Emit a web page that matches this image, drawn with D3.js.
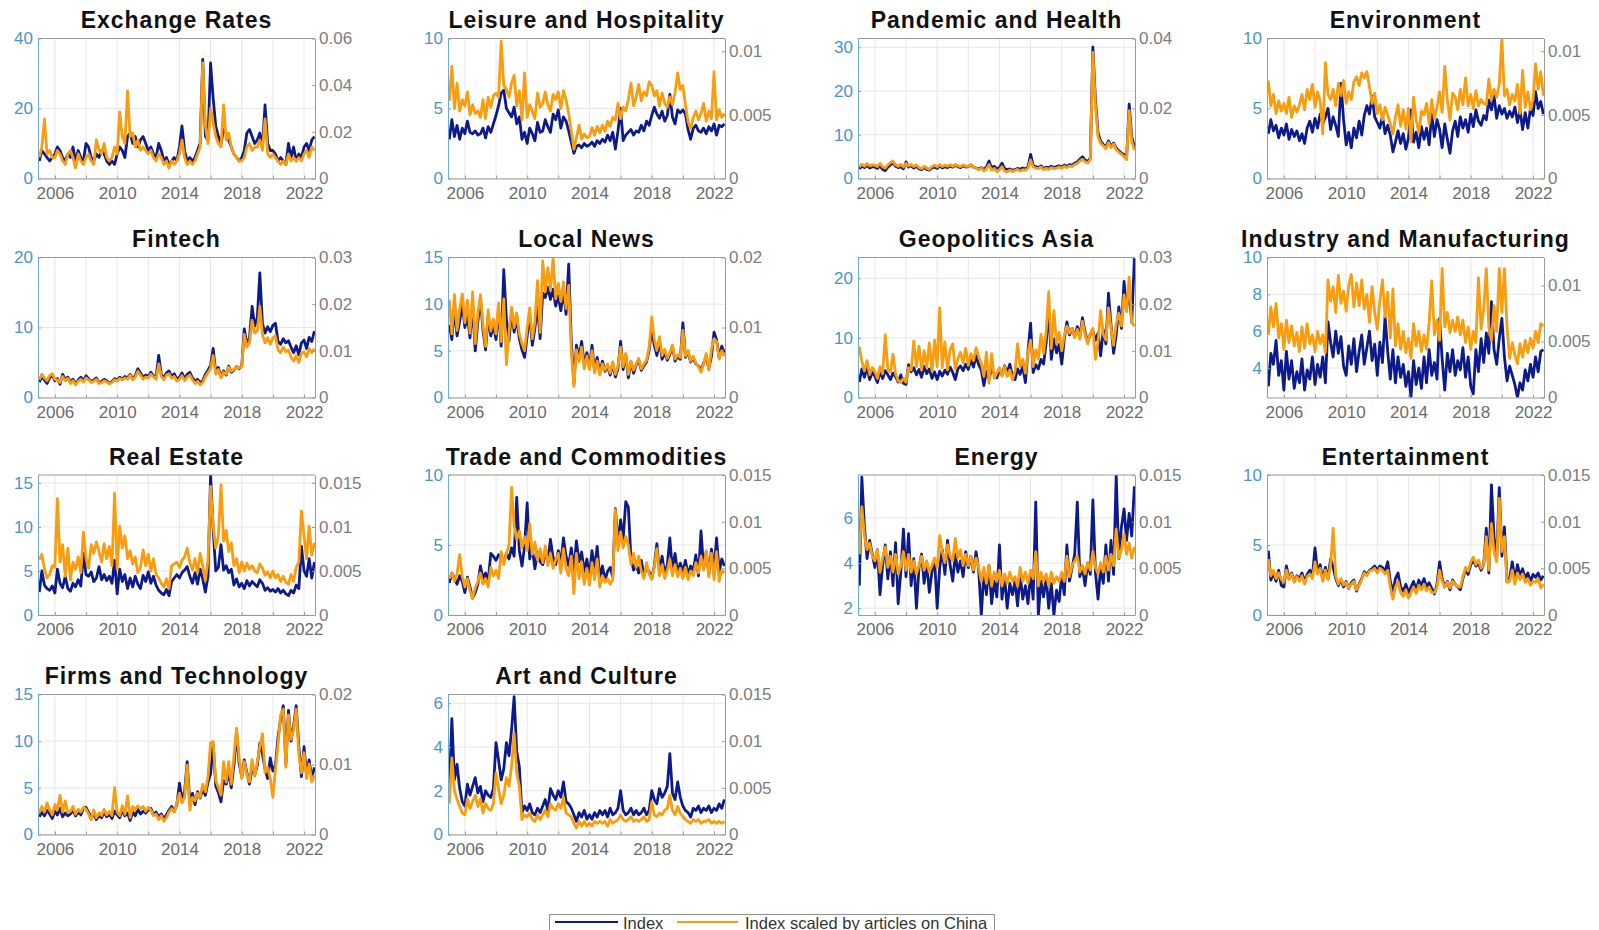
<!DOCTYPE html>
<html lang="en">
<head>
  <meta charset="UTF-8">
  <title>Topic indices</title>
  <script src="https://cdnjs.cloudflare.com/ajax/libs/d3/7.8.5/d3.min.js"></script>
  <style>
    body { margin: 0; background: #fff; }
    svg { display: block; font-family: 'Liberation Sans', Arial, sans-serif; }
  </style>
</head>
<body>
  <div id="wrapper"></div>
  <script>
    // one value every second month, Jan 2005 .. Sep 2022
    const dates = d3.timeMonth.every(2).range(new Date(2005, 0, 1), new Date(2022, 9, 1))

    const titles = ['Exchange Rates', 'Leisure and Hospitality', 'Pandemic and Health', 'Environment',
      'Fintech', 'Local News', 'Geopolitics Asia', 'Industry and Manufacturing',
      'Real Estate', 'Trade and Commodities', 'Energy', 'Entertainment',
      'Firms and Technology', 'Art and Culture']

    // left axis limits / ticks (Index)
    const leftLim = [[0, 40], [0, 10], [0, 32], [0, 10], [0, 20], [0, 15], [0, 23.5], [2.4, 10],
      [0, 15.9], [0, 10], [1.7, 7.9], [0, 10], [0, 15], [0, 6.4]]
    const leftTicks = [[0, 20, 40], [0, 5, 10], [0, 10, 20, 30], [0, 5, 10], [0, 10, 20], [0, 5, 10, 15],
      [0, 10, 20], [4, 6, 8, 10], [0, 5, 10, 15], [0, 5, 10], [2, 4, 6], [0, 5, 10], [0, 5, 10, 15], [0, 2, 4, 6]]
    // right axis limits / ticks (scaled index), in thousandths
    const rightLim = [[0, 60], [0, 11], [0, 40], [0, 11], [0, 30], [0, 20], [0, 30], [0, 12.5],
      [0, 15.9], [0, 15], [0, 15], [0, 15], [0, 20], [0, 15]]
    const rightTicks = [[0, 20, 40, 60], [0, 5, 10], [0, 20, 40], [0, 5, 10], [0, 10, 20, 30], [0, 10, 20],
      [0, 10, 20, 30], [0, 5, 10], [0, 5, 10, 15], [0, 5, 10, 15], [0, 5, 10, 15], [0, 5, 10, 15], [0, 10, 20], [0, 5, 10, 15]]

    // ---- Index series (left axis) ----
    const exchangeIdx = [5,8,7,6,5,6, 7,9,8,6,5,7, 6,9,5,8,6,5, 10,9,6,5,7,6, 8,7,5,4,5,4, 7,9,8,6,12,13,
      10,12,9,11,12,10, 8,9,7,6,10,8, 5,6,4,5,6,5, 9,15,8,5,6,5, 6,8,10,34,12,11, 33,23,15,12,10,14,
      13,11,9,7,6,5, 6,8,13,14,12,10, 11,13,9,21,10,8, 8,7,5,6,5,4, 10,6,9,5,7,6, 9,10,8,11,12]
    const leisureIdx = [2.8,4.2,3,3.8,2.8,3.6, 3.2,4.1,3.3,3.2,3.4,3.1, 3.2,3.6,2.9,3.7,3.3,3.9, 4.5,5.2,6.1,6.3,5,4.7, 4.4,5.1,3.9,4.4,2.8,3.3, 2.5,3.6,3.2,2.7,4,3.3,
      3.4,4.2,3.7,3.3,4.6,4.2, 4.9,3.6,4.4,4.1,3.4,2.6, 1.8,2.3,2.4,2.2,2.5,2.3, 2.4,2.6,2.3,2.7,2.5,2.8, 2.6,3.1,2.7,3.3,2.1,3.4, 5,2.7,3.1,3.3,3.5,3.1,
      3.4,3.3,3.8,3.4,4.1,3.8, 4.5,5.1,4.6,4.3,4.8,4.1, 4.5,6,4.4,3.9,4.9,4.7, 4.9,4.6,3.5,2.8,3.6,3.8, 3.4,3.3,3.6,3.2,3.7,3.4, 3.9,3.1,3.8,3.7,3.9]
    const pandemicIdx = [2.2,2.8,2.5,3,2.4,2.7, 2.6,2.3,2.9,2.1,1.8,2.6, 3.1,3.6,2.8,2.5,2.7,2.2, 3.8,2.6,2.9,2.4,2.8,2.2, 2,2.5,2.1,1.9,2.4,2.6, 2.3,2.9,2.4,2.7,2.5,2.8,
      2.6,3,2.7,2.5,2.9,2.6, 2.7,3.1,2.6,2.4,2.2,2.5, 2.1,2.6,4,2.4,2.8,2.2, 2.5,3.5,2.3,2,2.2,1.9, 2,2.3,2.1,2.4,2.2,2.6, 5.5,3,2.7,2.5,2.9,2.3,
      2.6,2.4,2.8,2.5,2.7,2.9, 2.6,3.1,2.7,3.2,3,3.5, 3.8,4.4,5,4.2,3.9,4.6, 30,18,10.5,8.5,7.8,7.2, 8.6,7.4,8.1,7,6.3,5.8, 5.5,4.5,17,9.5,7.2]
    const environmentIdx = [3.2,4.2,3.4,3.8,2.9,3.6, 3.1,3.9,2.8,3.5,3,3.4, 2.7,3.2,2.5,3.6,4.1,3.3, 4.3,3.6,4.6,3.9,4.4,5, 3.5,4.4,3.8,3,6.8,4.2, 2.4,3.3,2.2,3.6,2.9,4.1,
      3.1,4.5,5.2,4.6,5.9,4.4, 4,3.6,4.5,3.2,3.8,3.1, 1.9,2.6,3.4,2.5,3.2,2.1, 2.9,4.9,2.6,3.3,2.2,3.7, 2.8,3.6,2.4,4.6,3,4.2, 3.5,2.2,3.9,2.8,1.8,3.4,
      4.1,3,4.4,3.6,4.2,3.3, 4.6,3.7,4.9,4.1,3.8,4.5, 4.2,5.6,4.9,5.9,4.3,5.2, 4.6,5,4.3,4.8,4.4,5.1, 4,4.9,3.5,4.7,3.6,5, 4.5,6.2,5,5.5,4.6]
    const fintechIdx = [2.2,3,2.5,2,2.8,3.2, 2.4,2.7,1.9,3.3,2.6,2.9, 2.2,2.6,2,2.5,2.9,2.4, 3.1,2.7,2.3,2.5,2.8,2.1, 2.3,2.6,2.4,2,2.3,2.7, 2.5,2.9,2.6,3,2.8,3.3,
      2.7,3.1,4.1,3.5,2.9,3.2, 3,3.6,3.1,2.9,6,3.3, 2.8,3.5,3.8,3,3.4,2.6, 2.9,3.5,2.7,3.3,3.6,2.8, 2.3,2.6,2.1,2.4,3.3,3.9, 4.6,7,3.6,4.3,2.9,3.8,
      3.2,4.5,3.6,3.9,4.4,4.1, 4.5,9.8,7.6,8.5,13,10.2, 11.4,17.8,10.6,9.2,10.1,9.4, 10.3,10.6,8,7.6,8.4,7.8, 8.1,7.2,6.4,7.4,6.1,7.8, 8.2,7,8.6,8,9.5]
    const localNewsIdx = [7.8,6.2,9.5,6.6,8.2,10, 7.5,8.8,6.4,9.9,5,8.1, 10.6,7.2,5.1,8.7,6.6,7.8, 6.2,9.4,5.5,13.7,8.4,6.1, 9.1,7,8.5,6.3,5.1,4.3, 6.6,8.9,5.6,7.4,9.8,6.3,
      11.2,10.7,11.8,10.5,11.6,9.8, 10.9,9.3,11.5,8.9,14.3,6, 1.5,5.6,4.2,6,3.5,4.8, 3.2,5.6,2.8,4.3,2.6,3.9, 2.8,3.4,2.4,3.6,2.2,3.1, 6,3,4.6,2.1,3.8,2.6,
      3.5,4,2.9,3.4,3.8,5.1, 7.4,5.6,4.5,6,4.1,4.8, 4,4.6,5.5,3.9,4.4,4.1, 8,4.3,4.9,3.8,4.2,3.6, 3.4,2.9,3.7,4.3,3.1,4.4, 7,6.2,4.3,5.5,4.8]
    const geopoliticsIdx = [2.6,4.8,3.4,5,3,4.2, 3.6,2.5,4.4,3.2,4.5,3.8, 3,4.1,3.5,2.6,3.8,2.4, 2.2,5.5,4.3,5,3.8,4.7, 3.4,5.2,4,4.8,3.2,4.3, 3,4.4,3.6,4.6,3.9,5.1,
      4.2,3,4.8,5.3,4.5,5.6, 4.7,6.3,5.1,7,5.5,4.6, 2,4.4,3.1,4.8,4,3.3, 4.6,3.8,5.3,4.2,5.6,3.6, 3,4.8,3.9,5.2,2.5,7.8, 12.5,4.2,5.5,4.8,6.4,5.6,
      9.2,15,6.4,9.8,7.5,8.9, 5.6,9.8,12.7,10.5,11.6,10.2, 11.9,10.3,13.4,11,9.3,10.6, 11.2,9.6,10.8,7,11.4,9, 17.5,12.2,7.4,10.5,15.2,11.6, 19.5,14.8,18.2,12.6,23.5]
    const industryIdx = [3,4.8,4.2,5.5,3.6,4.4, 2.8,4.9,3.4,4.4,2.9,3.8, 3.2,4.5,2.8,3.9,3.4,4.6, 3.1,4.2,3.5,4.6,3.2,6.5, 5.4,4.6,6,4.8,5.7,4.1, 3.6,5.2,4.2,5.6,3.8,4.9,
      5.8,4.2,5.1,6,4.4,5.3, 3.6,5.4,4.3,6.8,4.9,3.4, 5,3.2,4.6,3.5,4.2,3, 3.8,2.4,4.4,3.1,4,2.9, 4.6,3.2,5,3.6,4.3,3.4, 6.7,4.5,2.8,4.8,3.8,5,
      3.6,4.4,3.9,5.1,3.5,4.6, 3,2.6,5,3.8,5.6,4.3, 5.9,4.8,7.6,5,4.2,5.6, 6.7,4.6,3.3,4.1,3.6,3.1, 2.4,3.2,2.8,3.9,3.3,4.2, 3.5,4.6,3.8,4.9,5]
    const realEstateIdx = [2.6,5,3.4,3,2.8,3.3, 2.5,5.2,3.6,3.1,4.4,3, 2.7,3.6,3.2,4,3.3,7, 4.6,4.4,4.9,3.8,4.2,5.5, 4,4.6,3.9,4.4,3.6,6.2, 2.4,5.2,3.8,4.6,3,4.2,
      3.2,4.4,3.5,3,4.5,3.8, 4.9,3.6,4.4,3.4,2.8,2.5, 2.3,2.9,2.2,3.8,4.2,4.6, 4.2,4.8,5.1,5.5,4.4,3.6, 4.8,3.5,5.2,4.1,2.6,4.4, 15.9,9.8,5,5.4,8,5.1,
      5.6,4.8,5.2,3.4,4.1,3.2, 3.6,3,3.9,3.3,3.8,3.5, 3.2,4,3.6,2.8,3.1,2.7, 2.9,2.6,3,2.5,2.8,2.4, 2.2,2.8,2.5,3.4,3,7.8, 5,4.4,6.4,4.2,6]
    const tradeIdx = [2.3,3,2.6,2.2,2.8,2.4, 1.6,2.7,2,1.2,1.6,2.2, 3.5,2.6,3,2.4,4.4,4.2, 3.9,4.3,4.1,3.8,4.4,4, 4.8,4.2,8.4,4.6,3.5,4.9, 8,4,4.8,3.3,4.5,3.8,
      3.6,4.4,3.9,5.4,4.1,3.6, 4.6,3.7,5.5,4.2,3.5,4.8, 3.2,5.3,3.8,4.5,3.1,4, 2.8,4.6,3.3,4.9,2.6,3.5, 2.5,3.1,3.4,2.7,7.6,5.1, 6.8,5.4,8.1,7.7,4,3.2,
      3.6,3,3.9,2.8,3.4,3.1, 2.6,3.5,5.1,3,4.2,2.9, 3.6,5.5,3.2,4.4,3,3.7, 3.1,3.9,2.9,3.5,3.2,4.3, 2.8,6,3.4,4.5,2.9,4.7, 3.2,5.5,3.1,4,3.5]
    const energyIdx = [3,7.8,5.6,4.2,5,4.4, 3.8,4.6,2.6,3.9,4.8,3.3, 4.5,3,4.9,2.2,3.6,5.5, 3.4,5.3,3,4.2,2,3.8, 4.4,3.1,4,2.7,3.6,4.2, 2,3.8,4.6,3.5,5,3.9,
      3.2,4.4,3.6,4.1,3.4,4.5, 3.8,4.3,3.6,4.5,3.7,1.7, 3.6,2.6,3.9,2.2,3.2,2.5, 4.8,2.4,3.4,2,3.1,2.6, 3.2,2.1,3.5,2.4,3,2.2, 3.6,2.4,6.7,1.7,3.2,2.5,
      3.4,2,3.1,1.7,2.8,2.3, 3.5,2.6,4.8,3.2,3.8,4.4, 6.7,3.4,3.8,3,4,3.5, 6.8,3.6,2.4,3.8,3.1,4.8, 3.2,5,3.5,7.9,4.2,5.6, 6.4,5,6.2,5.2,7.4]
    const entertainmentIdx = [4.6,2.5,3,2.4,3.2,2.1, 2,3.5,2.6,3,2.4,2.8, 2.6,3,2.4,2.9,3.2,2.8, 4.8,3,3.6,2.5,3.4,2.6, 4,3.4,2.6,2.1,2.5,2, 2.4,1.9,2.3,2.5,1.7,2.2,
      2.6,3.1,2.9,3.2,3.3,3.5, 3.2,3.5,3.4,3.1,3.8,2.4, 1.6,2.6,3,2,1.7,2.2, 1.6,2,2.4,1.8,2.5,2.1, 2.6,2,2.3,1.9,1.5,2.2, 3.8,2.6,2,2.4,1.8,2.5,
      2.2,2,1.8,2.6,3.3,2.9, 3.6,3.9,3.5,3.7,3.2,3.6, 6.2,3,9.3,5.6,4,9.1, 4.2,6.3,2.4,2.6,3.8,2.5, 3.6,2.8,3.3,2.6,3,2.4, 2.9,2.7,3,2.5,2.8]
    const firmsIdx = [1.9,2.4,2,2.6,2.2,1.7, 2.5,2.1,2.8,1.9,2.3,2, 2.2,2.6,2,2.4,2.1,2.8, 2.9,2.4,1.8,2.2,1.6,2, 1.8,2.4,1.9,2.2,1.7,2.5, 2.1,1.8,2.6,2,2.3,1.5,
      2.4,2,2.7,2.2,2.5,2.3, 2.6,2.8,2.1,2.4,1.9,2.2, 1.7,2.1,2.6,3,2.5,3.2, 5.5,3.8,4.6,7.8,3.4,4.4, 3.2,4.6,3.9,4.8,4.2,5.6, 6.5,9.7,5.2,4.5,3.5,5.8,
      5.4,6.6,5,7.4,11,7.6, 6.2,8,6.6,5.4,7.2,6.4, 7.4,9.8,8.6,7,6,8.2, 6.8,7.4,10.4,12.4,13.8,7.5, 13.3,10,11.6,13.8,9.4,6.2, 9.4,6.4,8,6,7.2]
    const artIdx = [2,5.3,2.5,3.2,2.1,1.5, 1.3,2.3,1.8,2.2,2.6,1.9, 2.2,1.5,2,1.8,1.7,2.1, 4.2,3.4,2.5,3,4.2,3.6, 4.8,6.3,3.8,3.1,1,1.3, 1.1,1.4,1,0.9,1.2,1,
      1.3,1.6,1.1,2.1,1.8,1.6, 2,1.7,2.4,1.5,1.4,1.2, 0.9,0.6,1,0.8,1.1,0.7, 0.9,0.7,1,0.8,1.1,0.9, 1.1,0.8,1.2,0.9,1,1.2, 2,1.1,0.9,1,1.2,0.9,
      1.1,0.9,1,1.2,0.9,1.1, 2,1.6,1.4,2.1,1.7,1.9, 2.2,3.7,1.9,1.6,2.4,1.7, 1.3,1.1,1,0.8,1.2,1.1, 1.3,1,1.2,1.1,1.3,1, 1.2,1.1,1.4,1.2,1.6]

    // ---- Index scaled by articles on China (right axis, thousandths) ----
    const exchangeScaled = [9,13.5,25.5,10.5,12,9, 9,12,10.5,7.5,6,10.5, 12,9,4.5,10.5,7.5,6, 9,10.5,7.5,6,16.5,12, 10.5,15,9,7.5,9,13.5, 10.5,28.5,18,15,37.5,18,
      19.5,13.5,16.5,12,13.5,12, 10.5,12,9,7.5,10.5,9, 6,7.5,4.5,7.5,6,7.5, 10.5,16.5,9,6,7.5,6, 7.5,10.5,13.5,49.5,22.5,15, 30,24,18,15,13.5,31.5,
      16.5,19.5,13.5,10.5,9,7.5, 7.5,9,13.5,15,12,13.5, 13.5,16.5,12,25.5,10.5,9, 10.5,9,7.5,6,7.5,6, 10.5,7.5,9,7.5,9,7.5, 10.5,12,9,13.5,12]
    const leisureScaled = [6.1,8.8,5.5,7.5,5.3,6.2, 5.7,6.8,5,5.8,5.1,5.3, 4.8,6.2,4.7,6.4,5.6,6.5, 6.7,6.4,10.8,7.3,7,6.4, 7.5,8.1,5.7,6.9,4.6,8.3, 4.8,5.8,5.3,4.7,6.7,5.6,
      5.9,6.8,5.8,5.3,6.6,6.2, 6.8,5.5,6.9,6.2,5.1,3.7, 2.3,3.2,4.2,3.1,3.5,3.2, 3.3,4,3.4,4.1,3.6,4.2, 3.7,4.5,4.1,4.8,4.6,5.9, 4.7,5.6,5.3,6.2,7.5,5.7,
      6.4,7.4,6.1,6.8,6.5,7.6, 7.3,6.5,6.9,5.7,6.7,5.9, 5.6,6.4,5.8,6.7,8.3,7, 7.3,5.8,4.5,3.9,4.8,5.3, 4.6,5.1,5.9,4.5,5.3,4.7, 8.4,4.6,5.4,4.8,5.1]
    const pandemicScaled = [3.3,4.1,3.5,4.3,3.6,3.9, 3.8,3.4,4.3,3.3,3,3.9, 4.5,5,3.9,3.5,4,3.3, 4.3,3.6,4,3.4,3.9,3.1, 2.8,3.5,3,2.6,3.4,3.8, 3.3,4,3.4,3.8,3.5,3.9,
      3.5,4,3.6,3.4,3.9,3.5, 3.5,4,3.3,2.9,2.5,3, 2.1,2.8,4,2.4,2.9,2, 2.5,3.4,2.1,1.9,2.4,2, 2.3,2.6,2.1,2.5,2.4,2.9, 5.3,3.3,3,2.8,3.3,2.5,
      2.9,2.6,3.1,2.8,3,3.3, 2.9,3.5,3.1,3.6,3.4,4, 4.3,5,5.5,4.8,4.4,5.3, 36,21,11.9,10,9.4,8.5, 10.3,8.8,9.8,8.3,7.5,6.9, 6.3,5.4,19.4,10.6,8.1]
    const environmentScaled = [7.7,5.7,6.6,5.1,6.1,5.3, 5.9,5.1,6.4,4.8,5.7,5.2, 5.8,6.6,5.4,7,6.2,7.4, 5.6,6.8,6.1,3.5,9.1,6.6, 6.2,7,5.7,7.5,6.5,7.7, 5.9,6.8,6.2,7.6,8,7.3,
      8.3,7.9,8.4,7.2,5.9,6.7, 5.1,5.8,4.6,5.6,5,4.3, 3.5,4.8,5.8,4.1,5.4,3.9, 5.5,2.9,6.4,4.6,3.6,5.3, 5,5.9,4.3,6.2,4.7,5.6, 6.8,5.2,8.8,6.2,4.6,6.7,
      6.4,5.4,7,5.8,7.9,5.7, 6.6,5.5,6.9,5.7,6.2,5.9, 5.8,7.8,6.2,7,6.4,7.4, 11,6.5,7,5.8,6.6,6.1, 7.4,5.1,8.5,5.6,6.8,5.4, 6.2,9,7,8.4,6.5]
    const fintechScaled = [3.8,5,4.2,3.6,4.7,5.1, 3.9,3.8,3.2,4.5,3.6,4.1, 3,3.6,2.7,3.5,3.9,3.3, 4.2,3.8,3.2,3.5,3.9,3, 3.2,3.6,3.3,2.9,3.2,3.8, 3.5,4.1,3.8,4.2,3.9,4.8,
      3.8,4.4,5.6,4.8,3.9,4.4, 4.2,5,4.4,3.9,7.2,4.5, 3.8,4.8,5.1,4.1,4.5,3.5, 3.9,4.7,3.6,4.4,4.8,3.8, 3,3.5,2.7,3.2,4.4,5.3, 6.2,9,5,6,4.2,5.4,
      5,6.5,5.6,6,6.5,6.3, 6.6,13.5,10.8,11.7,16.5,13.8, 14.3,19.5,13.5,11.7,12.8,11.4, 12.8,13.2,10.2,9.6,10.8,9.8, 10.2,8.7,7.8,9,7.5,9.5, 9.8,8.7,10.5,9.6,10.5]
    const localNewsScaled = [14,9.1,14.7,9.6,12.7,14.8, 10.7,13.9,9.2,15.1,7.7,12, 14.7,10.4,7.3,12.5,9.5,11.2, 9.1,13.5,8,14.1,4.7,9.3, 12.9,10,12.1,9.1,7.7,6.7, 9.9,12.8,8.4,10.9,16.7,9.3,
      19.5,15.1,18.5,15.3,20,14.1, 16.3,13.7,16.5,12.7,16,6.7, 1.6,6.8,5.1,7.2,4.1,5.9, 4,6.7,3.5,5.2,3.2,4.8, 3.9,4.8,3.5,5.1,3.3,4.5, 7.2,4.4,6.3,3.3,5.2,3.9,
      4.8,5.6,4.1,4.8,5.3,7.2, 11.5,8.4,6.7,8.7,6,6.9, 5.6,6.4,7.5,5.5,6.1,5.7, 9.6,5.9,6.7,5.2,5.9,4.9, 4.4,3.6,4.8,6.3,3.9,6.9, 8.4,8,5.5,6.7,5.9]
    const geopoliticsScaled = [10.9,7.7,5.7,7.9,4.9,6.4, 5.6,4.1,6.6,5.1,13.4,6.1, 5.4,9.3,5.1,3.6,3.2,4.1, 3.3,6.4,5.9,12.1,6.6,11, 5.9,10,6.4,11.7,5.6,12.3, 6.6,19.2,6.4,11.9,5.9,10.2,
      11.5,6.1,8.2,9.7,7.4,10.5, 6.9,9.4,7.9,10.7,8.7,7.4, 4.5,9.7,3.1,9.4,4.1,5.2, 6.4,4.6,6.6,4.5,5.9,3.8, 5.6,11.5,6.6,8.2,5.2,9.7, 12.3,6.6,10.2,8.2,13.5,9.4,
      14.3,22.7,10.5,18.6,11.5,14, 10,13.3,15.3,13.8,14.8,12.8, 14.6,12.5,16.3,13.5,11.5,13.8, 14.8,8.2,12,18.6,13.5,12.3, 19.2,14.8,11.2,15.8,18.1,15.3, 22,18.4,25.8,16.1,15.3]
    const industryScaled = [5.6,8.1,6.3,8.4,5.3,6.6, 4.3,6.9,4.9,6.4,4.6,5.8, 4.1,6.3,4.4,6.6,4.8,5.6, 4.1,5.9,4.8,5.6,4,10.5, 8.6,9.9,7.6,10.9,8.4,9.5, 7.7,10,11,8.1,10.2,8.2,
      10.5,7.9,9.2,6.7,9.9,7.6, 6.1,8.6,10.5,7.2,9.4,5.3, 9.7,4.6,6.6,4.3,5.9,4, 5.3,3.5,6.6,4.6,5.9,4.1, 5.6,4.3,6.7,10.4,5.6,6.9, 5.1,11.5,6.3,7.6,5.8,6.9,
      5.9,7.2,5.6,6.9,4.9,6.3, 4.3,5.9,4.9,10.7,6.1,7.9, 11.5,6.3,5.1,8.2,5.9,11.5, 7.6,11.5,6.3,3.5,4.9,3.8, 3,4.8,3.6,5.1,4,5.3, 4.4,5.9,4.9,6.6,6.4]
    const realEstateScaled = [6.3,6.9,5.2,4.2,4.6,5.6, 5.4,13.2,6,8,4.4,7.6, 4,6,5.2,6.6,4.8,9.4, 6.5,5.3,8,7,8.3,7.2, 6,8.1,6.4,7.8,5.6,13.8, 5.2,10.1,7.6,9,6.4,7.3,
      5.8,6.6,4.8,5.4,7.4,5.6, 6.9,5,6.4,4.6,4.2,3.6, 3.2,4.1,3,5.6,5.8,6, 5.4,6.2,6.6,7.6,6,5.1, 6.4,4.8,7,5.6,3.9,6.2, 14.6,10.2,7.6,9,14.8,8.4,
      9.6,7.2,8.2,5.6,6.4,4.8, 6,5,5.9,5.2,5.6,5, 4.8,5.8,5.3,4.5,4.9,4.2, 5,4.2,4.6,3.8,4.4,3.7, 3.5,4.6,3.8,5.4,6,11.8, 9,6.4,10.1,6.8,8.2]
    const tradeScaled = [3.9,4.5,3.6,4.4,6.5,4.1, 3,3.9,2.6,1.8,2.9,3.6, 4.5,3.3,3.9,3,5.1,4.2, 4.8,3.9,6.8,5.4,6.6,7.5, 13.7,9.5,8.1,9,7.2,8.4, 6.9,9.8,6.5,7.8,5.9,7.1,
      5.6,7.4,5.3,6.6,5,5.9, 6.6,4.5,7.1,5,4.2,6.3, 2.3,6.6,3.9,5.7,3.3,5, 3.2,5.6,3.8,6,3,4.2, 3.5,3.9,3.3,3.8,11.3,6.9, 8.9,7.2,8.4,7.5,5.4,6.6,
      5.1,6.3,4.7,3.9,5.6,4.4, 3.8,5.1,7.1,4.2,5.4,3.9, 4.8,6,4.2,5.4,4.1,5, 3.9,5.1,3.8,4.7,4.2,5.6, 4.5,6.3,4.8,6.9,4.1,6.6, 3.8,6.8,3.6,4.8,4.5]
    const energyScaled = [6.5,11.6,8.5,7,7.7,6.3, 5.8,7,4.6,6.1,7.3,5.1, 6.3,4.6,6.5,4.4,5.3,6.8, 4.8,6.5,4.6,5.8,4.4,5.3, 6.3,4.8,5.8,4.6,5.3,6.1, 5.1,8.5,6.8,5.6,7.5,6.3,
      5.8,8.2,6.1,7,5.3,6.5, 5.3,6.3,4.8,6.1,5.1,3.6, 5.1,3.4,5.3,3.1,4.6,3.6, 4.8,3.1,4.4,3.4,4.6,3.6, 4.1,3.1,5.1,3.6,4.6,3.4, 4.8,3.9,6.8,3.1,4.6,3.6,
      4.4,3.1,4.6,3.4,4.1,3.6, 4.6,3.6,6.3,4.1,5.3,5.8, 6.3,4.6,5.3,4.4,5.6,4.8, 6.8,5.1,4.4,5.6,4.6,6.3, 4.8,6.5,5.3,9.2,6.1,7, 8.7,6.5,7.7,6.1,7.3]
    const entertainmentScaled = [6,4.2,4.8,3.9,4.5,3.8, 3.5,4.8,3.8,4.4,3.5,4.1, 3.6,4.2,3.3,4.1,4.4,3.9, 5.7,4.4,5,3.6,4.8,3.8, 5.4,9.3,4.2,3.3,3.9,3.2, 3.5,2.9,3.3,3.6,2.7,3.2,
      3.8,4.5,4.2,4.7,4.8,5, 4.5,5,4.8,4.4,4.8,3, 1.7,3,3.6,2.4,2,2.7, 1.8,2.4,3,2.3,3.2,2.7, 3.3,2.6,3,2.4,2.4,3, 4.8,3.6,3,3.5,2.9,3.6,
      3.3,3,3,4.1,5.1,4.7, 5.7,6.2,5.4,5.9,5,5.3, 8.4,4.8,9.8,6.8,5.7,12.5, 6.8,8.4,3.5,3.6,4.8,3.3, 4.5,3.8,4.4,3.5,3.9,3.2, 3.6,3.5,3.9,2.9,3.3]
    const firmsScaled = [3.1,4,3.2,4.5,3.5,2.8, 4.3,3.5,5.6,3.2,4.8,3.1, 3.3,4,2.9,3.6,3.2,3.9, 3.6,2.9,2.1,3.5,2.4,3.1, 2.7,3.6,2.8,3.3,2.7,6.7, 3.2,2.7,4.1,2.9,5.5,2.4,
      4,3.5,4.1,3.7,4,3.3, 3.9,3.5,2.7,2.9,2.1,2.7, 1.9,2.4,3.2,3.7,3.2,4.5, 5.9,4.5,5.3,9.9,3.5,5.3, 4.8,5.9,5.3,7.2,6.1,8.3, 13.1,13.3,7.7,6.7,5.6,10.4,
      7.5,10.4,7.2,11.2,15.2,10.9, 8,10.4,8.5,7.5,10.7,8.3, 10.4,12.5,14.4,8.8,9.6,8, 5.3,9.3,12.8,17.1,17.9,9.6, 17.1,13.6,14.9,17.9,11.5,8.8, 11.7,8,10.1,7.5,8.5]
    const artScaled = [3.3,8.2,4.7,3.8,3,2.3, 2.1,3.8,2.8,3.5,4.2,3, 3.8,2.3,3.3,2.8,2.6,3.3, 6.6,4.9,3.3,4.2,6.1,5.2, 7.3,10.8,6.6,5.2,1.6,2.1, 1.9,2.3,1.6,1.4,2.1,1.6,
      2.1,2.6,1.9,3.3,2.8,2.6, 3.3,2.8,4,2.3,2.1,1.9, 1.2,0.7,1.4,0.9,1.4,0.9, 1.2,0.9,1.4,1.2,1.4,1.2, 1.4,0.9,1.6,1.2,1.4,1.6, 2.1,1.6,1.4,1.6,1.9,1.4,
      1.6,1.4,1.6,1.9,1.4,1.6, 3.5,2.1,1.9,2.3,2.1,2.6, 2.8,4.2,2.6,2.1,3,2.3, 1.9,1.6,1.4,1.2,1.6,1.4, 1.6,1.2,1.4,1.4,1.6,1.2, 1.4,1.2,1.4,1.2,1.4]

    const indexSeries = [exchangeIdx, leisureIdx, pandemicIdx, environmentIdx, fintechIdx, localNewsIdx, geopoliticsIdx,
      industryIdx, realEstateIdx, tradeIdx, energyIdx, entertainmentIdx, firmsIdx, artIdx]
    const scaledSeries = [exchangeScaled, leisureScaled, pandemicScaled, environmentScaled, fintechScaled, localNewsScaled,
      geopoliticsScaled, industryScaled, realEstateScaled, tradeScaled, energyScaled, entertainmentScaled, firmsScaled, artScaled]

    const gridYears = d3.range(2006, 2023, 2).map(y => new Date(y, 0, 1))
    const labelYears = [2006, 2010, 2014, 2018, 2022]

    const navy = '#0d1b8a'
    const orange = '#f99c0e'
    const blue = '#4a94cc'
    const gray = '#9a9a9a'

    const colX = [38, 448, 858, 1267]
    const rowY = [38.5, 257.5, 475, 694.5]
    const pw = 277
    const ph = 140
    const tickFont = 17

    const svg = d3.select('#wrapper').append('svg')
      .attr('width', 1599)
      .attr('height', 930)

    const x = d3.scaleTime()
      .domain([new Date(2004, 11, 1), new Date(2022, 8, 15)])
      .range([0, pw])

    const fmtRight = d => d === 0 ? '0' : String(d / 1000)

    titles.forEach((title, i) => {
      const g = svg.append('g')
        .attr('transform', `translate(${colX[i % 4]},${rowY[Math.floor(i / 4)]})`)

      const yL = d3.scaleLinear().domain(leftLim[i]).range([ph, 0])
      const yR = d3.scaleLinear().domain(rightLim[i]).range([ph, 0])

      g.append('clipPath').attr('id', `clip${i}`)
        .append('rect').attr('width', pw).attr('height', ph)

      // grid
      g.append('g').selectAll('line').data(gridYears).join('line')
        .attr('x1', d => x(d)).attr('x2', d => x(d))
        .attr('y1', 0).attr('y2', ph)
        .attr('stroke', '#e6e6e6')
      g.append('g').selectAll('line').data(leftTicks[i]).join('line')
        .attr('x1', 0).attr('x2', pw)
        .attr('y1', d => yL(d)).attr('y2', d => yL(d))
        .attr('stroke', '#e6e6e6')

      const plot = g.append('g').attr('clip-path', `url(#clip${i})`)
      plot.append('path')
        .datum(indexSeries[i])
        .attr('d', d3.line().x((d, j) => x(dates[j])).y(d => yL(d)))
        .attr('fill', 'none')
        .attr('stroke', navy)
        .attr('stroke-width', 2.8)
        .attr('stroke-linejoin', 'round')
      plot.append('path')
        .datum(scaledSeries[i])
        .attr('d', d3.line().x((d, j) => x(dates[j])).y(d => yR(d)))
        .attr('fill', 'none')
        .attr('stroke', orange)
        .attr('stroke-width', 2.8)
        .attr('stroke-linejoin', 'round')

      // top edge of the box
      g.append('line').attr('x1', 0).attr('x2', pw).attr('stroke', gray)

      const xAxis = g.append('g')
        .attr('transform', `translate(0,${ph})`)
        .call(d3.axisBottom(x)
          .tickValues(gridYears)
          .tickSizeInner(-3).tickSizeOuter(0).tickPadding(8)
          .tickFormat(d => labelYears.includes(d.getFullYear()) ? d.getFullYear() : ''))
        .attr('font-size', tickFont).attr('font-family', null).attr('color', gray)
      xAxis.selectAll('text').attr('fill', '#6b6b6b')

      const yAxisL = g.append('g')
        .call(d3.axisLeft(yL)
          .tickValues(leftTicks[i])
          .tickSizeInner(-3).tickSizeOuter(0).tickPadding(5)
          .tickFormat(d => String(d)))
        .attr('font-size', tickFont).attr('font-family', null).attr('color', '#6aa9da')
      yAxisL.selectAll('text').attr('fill', blue)

      const yAxisR = g.append('g')
        .attr('transform', `translate(${pw},0)`)
        .call(d3.axisRight(yR)
          .tickValues(rightTicks[i])
          .tickSizeInner(-3).tickSizeOuter(0).tickPadding(4)
          .tickFormat(fmtRight))
        .attr('font-size', tickFont).attr('font-family', null).attr('color', gray)
      yAxisR.selectAll('text').attr('fill', '#7d7d7d')

      g.append('text')
        .attr('x', pw / 2)
        .attr('y', -10.5)
        .attr('text-anchor', 'middle')
        .attr('font-size', 23)
        .attr('font-weight', 'bold')
        .attr('letter-spacing', 1)
        .attr('fill', '#111')
        .text(title)
    })

    // legend (cut by the bottom edge, as in the figure)
    const legend = svg.append('g')
    legend.append('rect')
      .attr('x', 549.5).attr('y', 914.5)
      .attr('width', 445).attr('height', 30)
      .attr('fill', '#fff').attr('stroke', '#8f8f8f')
    const legendItems = [
      { label: 'Index', color: navy, x1: 555, x2: 618, tx: 623 },
      { label: 'Index scaled by articles on China', color: orange, x1: 677, x2: 738, tx: 745 }
    ]
    legendItems.forEach(d => {
      legend.append('line')
        .attr('x1', d.x1).attr('x2', d.x2).attr('y1', 922).attr('y2', 922)
        .attr('stroke', d.color).attr('stroke-width', 2)
      legend.append('text')
        .attr('x', d.tx).attr('y', 928.5)
        .attr('font-size', 16.5)
        .attr('fill', '#333')
        .text(d.label)
    })

    const bad = indexSeries.concat(scaledSeries)
      .map((s, i) => [i, s.length]).filter(d => d[1] !== dates.length)
    if (bad.length) throw new Error('length mismatch: ' + JSON.stringify(bad) + ' expected ' + dates.length)
  </script>
</body>
</html>
